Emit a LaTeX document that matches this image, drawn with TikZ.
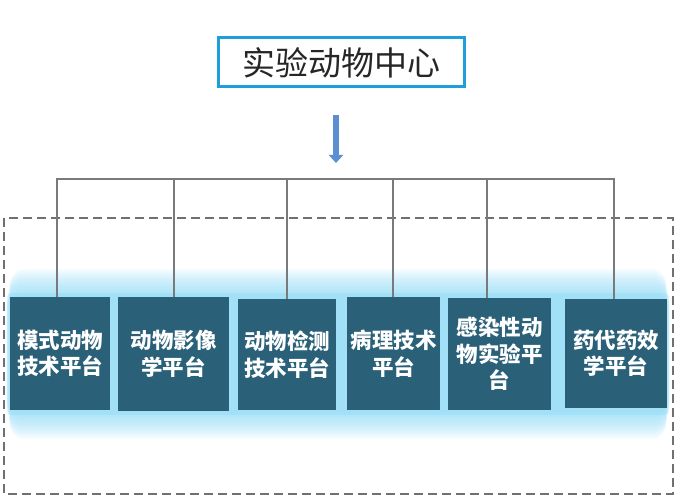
\documentclass[tikz,border=0pt]{standalone}
\usepackage{fontspec}
\newfontfamily\cjk{Noto Sans CJK SC}
\usepackage{tikz}
\usetikzlibrary{positioning,calc,arrows.meta}

\definecolor{titleblue}{HTML}{1E9FD9}
\definecolor{arrowblue}{HTML}{5B8FD2}
\definecolor{platcol}{HTML}{2A6179}
\definecolor{glowcol}{HTML}{7FD5F6}
\definecolor{buscol}{HTML}{7A7A7A}
\definecolor{dashcol}{HTML}{707070}

\begin{document}
\begin{tikzpicture}[x=1pt, y=-1pt,
    platform/.style={rectangle, fill=platcol, text=white, align=center, inner sep=0pt,
        font=\cjk\bfseries\fontsize{21.5}{26.5}\selectfont},
    bus/.style={draw=buscol, line width=1.6pt}]
    \useasboundingbox (0,0) rectangle (678,500);

    % glow band behind the platforms
    \foreach \k in {1,...,14}
        \fill [glowcol, opacity=0.07, rounded corners=14pt] ({6+\k*0.3},{297-2*\k}) rectangle ({670-\k*0.3},{411+2*\k});
    \fill [glowcol, opacity=0.25, rounded corners=4pt] (7,293) rectangle (669,415);

    \node [draw=titleblue, line width=3pt, rectangle, minimum width=246pt, minimum height=49pt,
        font=\cjk\fontsize{33}{38}\selectfont, text=black!85] (Center) at (341,62.5) {实验动物中心};

    \coordinate (ArrS) at (336,115);
    \coordinate (ArrE) at (336,163);
    \draw [arrowblue, line width=5.5pt, -{Triangle[width=14pt, length=8pt]}] (ArrS) -- (ArrE);

    \draw [dashcol, line width=1.4pt, dash pattern=on 9pt off 5pt] (4,218) rectangle (673,494);

    \node [platform, minimum width=100pt, minimum height=113pt] (P1) at (60,353.5) {模式动物\\技术平台};
    \node [platform, minimum width=111pt, minimum height=114pt] (P2) at (173.5,354) {动物影像\\学平台};
    \node [platform, minimum width=98pt, minimum height=111pt] (P3) at (287,354.5) {动物检测\\技术平台};
    \node [platform, minimum width=93pt, minimum height=113pt] (P4) at (393.5,353.5) {病理技术\\平台};
    \node [platform, minimum width=103pt, minimum height=112pt] (P5) at (499.5,354) {感染性动\\物实验平\\台};
    \node [platform, minimum width=102pt, minimum height=109pt] (P6) at (616,353.5) {药代药效\\学平台};

    % bus line and drops
    \coordinate (T1) at (57,179);
    \coordinate (T2) at (174,179);
    \coordinate (T3) at (287,179);
    \coordinate (T4) at (393,179);
    \coordinate (T5) at (487,179);
    \coordinate (T6) at (614,179);
    \draw [bus] ($(T1)+(-1,0)$) -- ($(T6)+(1,0)$);
    \foreach \i in {1,...,6}
        \draw [bus] (T\i) -- (T\i |- P\i.north);

\end{tikzpicture}
\end{document}
